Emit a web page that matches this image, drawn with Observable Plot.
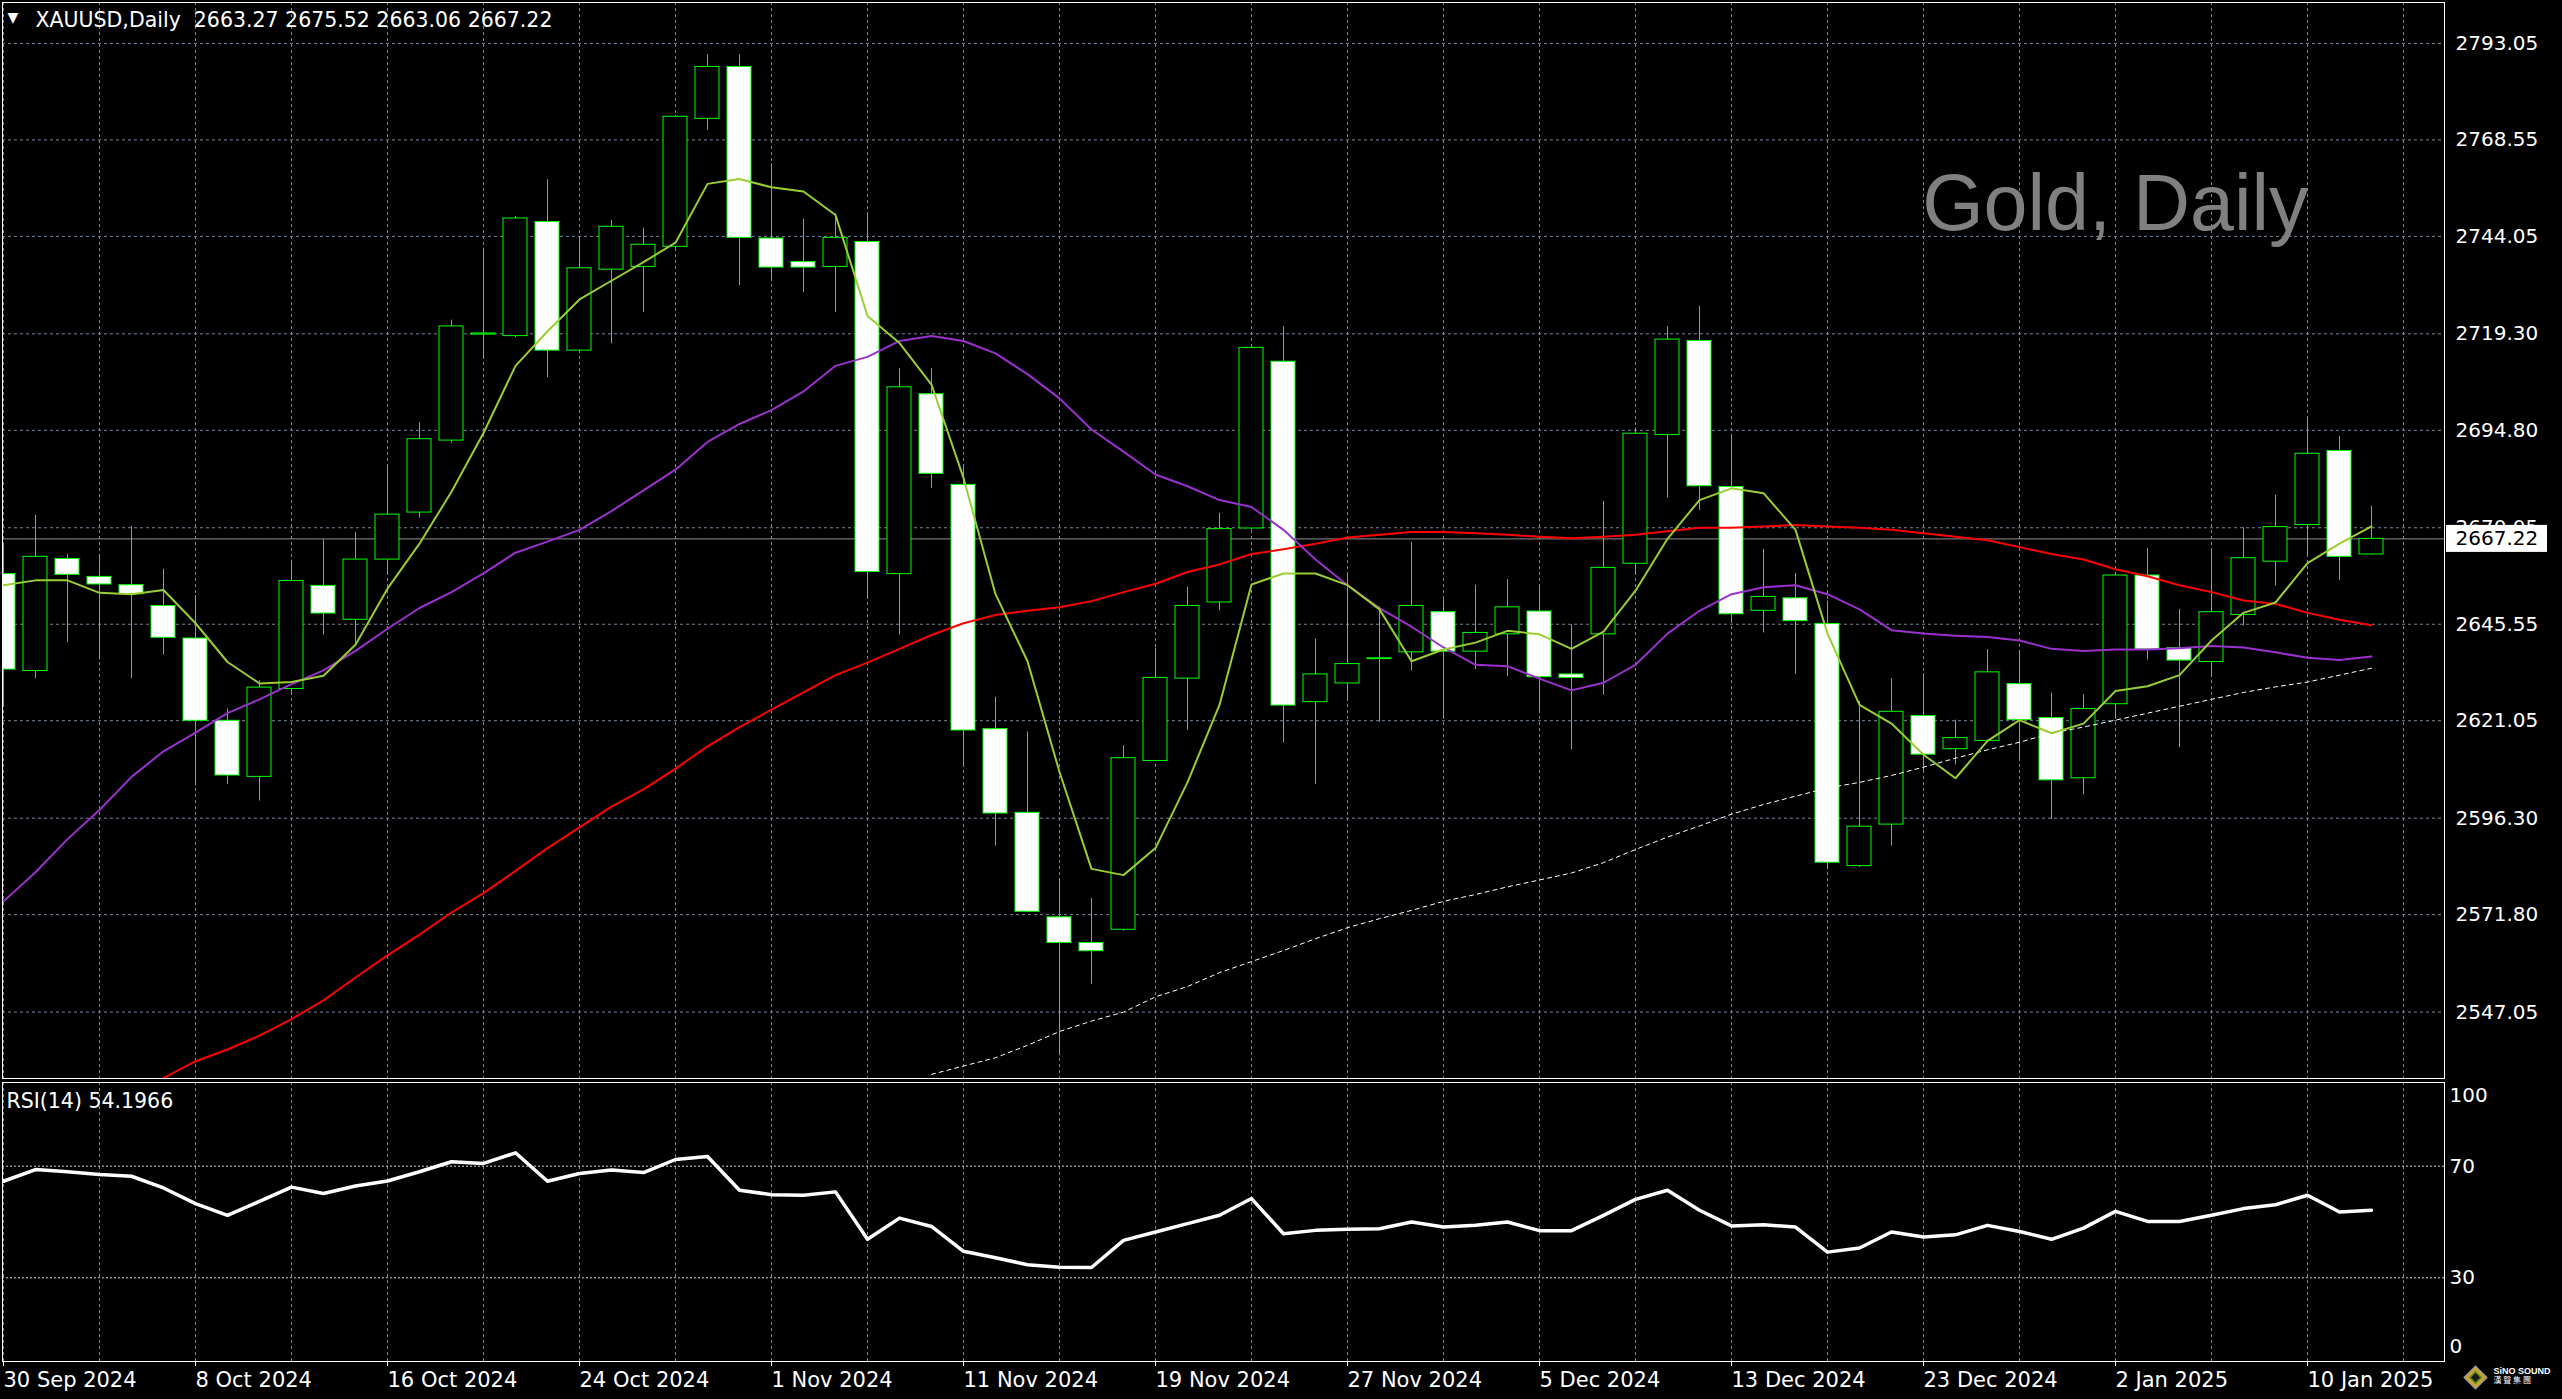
<!DOCTYPE html>
<html>
<head>
<meta charset="utf-8">
<script src="https://cdn.jsdelivr.net/npm/d3@7"></script>
<script src="https://cdn.jsdelivr.net/npm/@observablehq/plot@0.6"></script>
<style>
html, body { margin: 0; padding: 0; background: #000; overflow: hidden; width: 2562px; height: 1399px; }
#chart svg { display: block; }
</style>
</head>
<body>
<div id="chart"></div>
<script>
// ---------------- DATA ----------------
const symbolLabel = "XAUUSD,Daily";
const watermark = "Gold, Daily";
const rsiLabel = "RSI(14) 54.1966";

const opens = [2658.28, 2633.68, 2662.14, 2657.57, 2655.47, 2650.19, 2641.93, 2621.03, 2606.79, 2629.11,
  2655.29, 2646.68, 2661.97, 2673.91, 2692.19, 2719.10, 2718.72, 2747.71, 2715.03, 2735.59,
  2736.29, 2741.39, 2773.89, 2787.07, 2743.50, 2737.52, 2736.29, 2742.62, 2658.28, 2703.96,
  2680.94, 2618.91, 2597.66, 2571.12, 2564.62, 2567.96, 2610.83, 2631.74, 2651.07, 2669.87,
  2712.22, 2625.77, 2630.51, 2636.70, 2638.42, 2648.61, 2638.59, 2642.99, 2648.78, 2632.80,
  2642.99, 2660.91, 2693.59, 2717.49, 2680.42, 2648.96, 2652.13, 2645.63, 2584.13, 2594.67,
  2622.26, 2613.82, 2615.93, 2630.34, 2621.73, 2606.44, 2625.24, 2657.92, 2639.48, 2635.96,
  2647.91, 2661.44, 2670.75, 2689.55, 2663.27];
const highs = [2665.66, 2673.21, 2663.20, 2663.20, 2670.40, 2659.51, 2652.83, 2624.01, 2631.22, 2661.79,
  2667.06, 2668.82, 2685.87, 2696.76, 2722.76, 2741.03, 2749.12, 2758.43, 2743.85, 2748.06,
  2746.13, 2774.80, 2790.23, 2790.23, 2762.47, 2748.41, 2749.82, 2749.99, 2710.46, 2710.46,
  2685.87, 2627.00, 2618.21, 2580.79, 2575.87, 2614.70, 2639.48, 2654.94, 2673.74, 2716.10,
  2721.18, 2641.76, 2658.45, 2650.02, 2666.36, 2651.78, 2655.47, 2656.87, 2655.47, 2645.45,
  2676.73, 2695.35, 2721.18, 2726.28, 2693.59, 2664.60, 2658.45, 2651.42, 2625.95, 2631.74,
  2632.97, 2621.20, 2639.12, 2638.77, 2628.05, 2627.70, 2658.40, 2664.78, 2649.32, 2664.60,
  2670.05, 2678.31, 2697.99, 2693.24, 2675.52];
const lows = [2624.72, 2631.74, 2640.88, 2636.49, 2631.74, 2637.72, 2604.51, 2604.86, 2600.64, 2627.70,
  2642.81, 2640.53, 2658.10, 2672.51, 2691.49, 2712.92, 2718.37, 2708.18, 2714.85, 2716.79,
  2724.70, 2741.00, 2770.91, 2731.55, 2732.78, 2729.79, 2724.70, 2651.95, 2642.81, 2680.06,
  2609.78, 2589.22, 2572.30, 2535.98, 2554.08, 2567.60, 2610.60, 2618.56, 2648.96, 2669.50,
  2615.40, 2604.86, 2626.12, 2620.67, 2633.68, 2621.55, 2634.03, 2632.27, 2623.31, 2613.65,
  2627.53, 2658.10, 2677.60, 2674.44, 2646.15, 2643.34, 2632.80, 2583.42, 2583.80, 2589.22,
  2608.03, 2609.78, 2615.75, 2611.01, 2595.90, 2602.23, 2621.55, 2636.49, 2614.17, 2632.27,
  2645.10, 2655.29, 2663.02, 2656.70, 2663.06];
const closes = [2634.03, 2662.67, 2658.10, 2655.64, 2653.18, 2642.11, 2621.03, 2607.14, 2629.46, 2656.52,
  2648.26, 2661.97, 2673.39, 2692.54, 2721.18, 2719.40, 2748.59, 2715.03, 2735.94, 2746.48,
  2741.92, 2774.42, 2787.07, 2743.67, 2736.12, 2736.12, 2743.67, 2658.80, 2705.72, 2683.75,
  2618.56, 2597.48, 2572.53, 2564.62, 2562.51, 2611.54, 2631.92, 2650.19, 2669.70, 2715.73,
  2624.89, 2632.80, 2635.43, 2636.90, 2650.19, 2638.59, 2643.34, 2649.84, 2632.10, 2631.92,
  2659.86, 2693.94, 2717.84, 2680.59, 2648.08, 2652.48, 2646.33, 2584.99, 2594.14, 2623.31,
  2612.42, 2616.63, 2633.33, 2621.20, 2605.91, 2624.01, 2657.92, 2639.12, 2636.31, 2648.61,
  2662.32, 2670.22, 2688.84, 2662.67, 2667.22];

// moving averages (fast = yellow-green, medium = purple, slow = red, long = white dotted)
const maFast = [2655.47, 2656.69, 2656.69, 2653.53, 2653.18, 2654.24, 2645.80, 2635.96, 2630.51, 2630.87,
  2632.45, 2640.35, 2654.59, 2666.01, 2679.19, 2694.12, 2711.17, 2719.95, 2728.03, 2732.78,
  2737.52, 2742.44, 2757.38, 2758.61, 2756.50, 2755.44, 2749.47, 2723.82, 2716.96, 2706.42,
  2682.70, 2653.18, 2636.14, 2608.02, 2583.42, 2581.84, 2588.70, 2605.39, 2625.07, 2655.64,
  2658.45, 2658.45, 2655.47, 2649.32, 2636.14, 2639.12, 2640.88, 2643.87, 2642.99, 2639.30,
  2643.69, 2654.06, 2667.24, 2677.08, 2680.06, 2678.83, 2669.52, 2643.17, 2625.07, 2620.32,
  2612.42, 2606.44, 2615.93, 2621.20, 2617.86, 2620.32, 2628.58, 2629.81, 2632.62, 2641.41,
  2648.44, 2651.07, 2661.09, 2666.01, 2670.40];
const maMid = [2575.17, 2582.55, 2590.98, 2598.36, 2606.79, 2613.29, 2618.04, 2622.96, 2626.47, 2630.34,
  2633.85, 2638.77, 2644.40, 2649.67, 2653.71, 2658.45, 2663.72, 2666.53, 2669.52, 2674.27,
  2679.54, 2684.81, 2691.84, 2696.41, 2699.92, 2704.66, 2711.17, 2713.45, 2717.49, 2718.72,
  2717.49, 2714.33, 2709.06, 2702.91, 2695.00, 2689.38, 2683.58, 2680.59, 2677.08, 2675.32,
  2669.52, 2661.97, 2655.47, 2649.67, 2644.92, 2639.65, 2635.26, 2634.91, 2631.74, 2628.76,
  2630.69, 2635.26, 2643.17, 2648.96, 2653.18, 2654.94, 2655.47, 2653.18, 2649.32, 2644.04,
  2643.17, 2642.64, 2642.29, 2641.41, 2639.30, 2638.77, 2639.12, 2639.12, 2639.48, 2640.00,
  2639.65, 2638.42, 2637.02, 2636.49, 2637.37];
const maSlow = [null, null, null, null, null, 2530.30, 2534.58, 2537.56, 2541.08, 2545.29,
  2550.04, 2555.84, 2561.46, 2566.73, 2572.35, 2577.27, 2582.90, 2588.70, 2593.97, 2599.24,
  2603.63, 2608.90, 2614.52, 2619.44, 2623.84, 2628.23, 2632.62, 2635.79, 2639.30, 2642.81,
  2645.80, 2647.91, 2648.96, 2649.84, 2651.42, 2653.71, 2655.82, 2658.80, 2660.74, 2663.37,
  2664.60, 2666.01, 2667.59, 2668.29, 2668.99, 2668.99, 2668.64, 2668.29, 2667.76, 2667.41,
  2667.76, 2668.29, 2669.17, 2670.05, 2670.05, 2670.40, 2670.75, 2670.40, 2670.05, 2669.52,
  2668.64, 2667.76, 2666.89, 2665.13, 2663.37, 2661.97, 2659.51, 2657.75, 2655.47, 2653.71,
  2651.60, 2650.72, 2648.44, 2646.68, 2645.27];
const maLong = [null, null, null, null, null, null, null, null, null, null,
  null, null, null, null, null, null, null, null, null, null,
  null, null, null, null, null, null, null, null, null, 2531.24,
  2533.35, 2535.46, 2538.62, 2542.13, 2544.77, 2547.05, 2550.92, 2553.55, 2557.07, 2559.88,
  2562.69, 2565.68, 2568.49, 2570.77, 2572.88, 2575.17, 2576.92, 2578.86, 2580.61, 2582.37,
  2585.01, 2588.34, 2591.51, 2594.32, 2597.31, 2599.77, 2601.87, 2603.98, 2605.39, 2607.14,
  2609.25, 2611.54, 2613.65, 2615.58, 2617.86, 2619.44, 2621.20, 2622.96, 2624.72, 2626.47,
  2628.23, 2629.64, 2630.87, 2632.62, 2634.38];

const rsi = [64.6, 68.8, 68.0, 67.0, 66.4, 62.2, 56.6, 52.4, 57.4, 62.5,
  60.2, 62.9, 64.7, 68.0, 71.6, 71.0, 74.8, 64.6, 67.4, 68.6,
  67.7, 72.4, 73.5, 61.4, 59.8, 59.6, 60.8, 43.8, 51.4, 48.4,
  39.5, 37.2, 34.7, 33.8, 33.7, 43.4, 46.4, 49.4, 52.4, 58.4,
  45.8, 47.0, 47.4, 47.6, 50.0, 48.2, 48.8, 50.0, 46.9, 46.9,
  52.4, 58.1, 61.4, 54.2, 48.6, 49.0, 48.2, 39.2, 40.7, 46.4,
  44.6, 45.4, 48.8, 46.6, 43.8, 47.8, 53.8, 50.2, 50.2, 52.4,
  54.8, 56.2, 59.6, 53.6, 54.2];

const priceTicks = [2793.05, 2768.55, 2744.05, 2719.30, 2694.80, 2670.05, 2645.55, 2621.05, 2596.30, 2571.80, 2547.05];
const rsiTicksMid = [70, 30];
const rsiTop = [100];
const rsiBottom = [0];
const rsiLevels = [70, 30];
const gridBars = [0, 3, 6, 9, 12, 15, 18, 21, 24, 27, 30, 33, 36, 39, 42, 45, 48, 51, 54, 57, 60, 63, 66, 69, 72, 75];
const labelBars = [0, 6, 12, 18, 24, 30, 36, 42, 48, 54, 60, 66, 72];
const dateLabels = ["30 Sep 2024", "8 Oct 2024", "16 Oct 2024", "24 Oct 2024", "1 Nov 2024", "11 Nov 2024",
  "19 Nov 2024", "27 Nov 2024", "5 Dec 2024", "13 Dec 2024", "23 Dec 2024", "2 Jan 2025", "10 Jan 2025"];

// ---------------- LAYOUT ----------------
const W = 2562;
const PLOT_LEFT = 2, PLOT_RIGHT = 2444, BAR_PX = 32, FIRST_BAR_PX = 3;
const xDomain = [(PLOT_LEFT - FIRST_BAR_PX) / BAR_PX, (PLOT_RIGHT - FIRST_BAR_PX) / BAR_PX];
const BODY_HALF = 0.375;
const GRID = "#778899";
const FONT = "DejaVu Sans";

const bars = opens.map((o, i) => ({i, open: o, high: highs[i], low: lows[i], close: closes[i]}));
const last = bars[bars.length - 1];
const header = `${symbolLabel}  ${[last.open, last.high, last.low, last.close].map(d => d.toFixed(2)).join(" ")}`;

const pricePlot = Plot.plot({
  width: W, height: 1080,
  marginLeft: PLOT_LEFT, marginRight: W - PLOT_RIGHT, marginTop: 2, marginBottom: 2,
  style: {background: "#000", color: "#fff", fontFamily: FONT, fontSize: "20px"},
  x: {domain: xDomain, axis: null},
  y: {domain: [2530.19, 2803.44]},
  marks: [
    Plot.gridX(gridBars, {stroke: GRID, strokeOpacity: 1, strokeDasharray: "3,3"}),
    Plot.gridY(priceTicks, {stroke: GRID, strokeOpacity: 1, strokeDasharray: "3,3"}),
    Plot.text([watermark], {frameAnchor: "top-right", dx: -136, dy: 171, textAnchor: "end", lineAnchor: "top",
      fontSize: 79, fontFamily: "Liberation Sans", fill: "#808080"}),
    Plot.ruleY([last.close], {stroke: "#8f8f8f", strokeWidth: 1}),
    Plot.ruleX(bars, {x: "i", y1: "low", y2: "high", stroke: "#00ff00", strokeWidth: 1, clip: true}),
    Plot.rect(bars, {x1: d => d.i - BODY_HALF, x2: d => d.i + BODY_HALF, y1: "open", y2: "close",
      fill: d => d.close >= d.open ? "black" : "white", stroke: "#00ff00", strokeWidth: 1, clip: true}),
    Plot.lineY(maLong, {stroke: "#ffffff", strokeWidth: 1, strokeDasharray: "4,4", clip: true}),
    Plot.lineY(maSlow, {stroke: "#ff0000", strokeWidth: 2, clip: true}),
    Plot.lineY(maMid, {stroke: "#9932cc", strokeWidth: 2, clip: true}),
    Plot.lineY(maFast, {stroke: "#9acd32", strokeWidth: 2, clip: true}),
    Plot.axisY(priceTicks, {anchor: "right", tickSize: 0, tickPadding: 11, tickFormat: d => d.toFixed(2), label: null, fontSize: 20}),
    Plot.text([last.close], {y: d => d, text: d => d.toFixed(2), frameAnchor: "right", dx: 11, textAnchor: "start",
      fill: "#000", fontSize: 20}),
    Plot.text(["▼"], {frameAnchor: "top-left", dx: 5, dy: 10, textAnchor: "start", lineAnchor: "top", fontSize: 14, fill: "#fff"}),
    Plot.text([header], {frameAnchor: "top-left", dx: 33, dy: 10, textAnchor: "start", lineAnchor: "top", fontSize: 20.5, fill: "#fff"}),
    Plot.frame({stroke: "#fff"})
  ]
});

// white box behind the last-price label on the right axis
{
  const svg = d3.select(pricePlot);
  const yv = pricePlot.scale("y").apply(last.close);
  const lbl = svg.selectAll("text").filter(function () { return this.textContent === last.close.toFixed(2); });
  const g = lbl.node().parentNode;
  g.parentNode.insertBefore(
    Object.assign(document.createElementNS("http://www.w3.org/2000/svg", "rect"), {}), g);
  d3.select(g.previousSibling)
    .attr("x", PLOT_RIGHT + 2).attr("y", yv - 13.5).attr("width", 101).attr("height", 27).attr("fill", "#fff");
}

const rsiPlot = Plot.plot({
  width: W, height: 319,
  marginLeft: PLOT_LEFT, marginRight: W - PLOT_RIGHT, marginTop: 2, marginBottom: 38,
  style: {background: "#000", color: "#fff", fontFamily: FONT, fontSize: "20px"},
  x: {domain: xDomain},
  y: {domain: [0, 100]},
  marks: [
    Plot.gridX(gridBars, {stroke: GRID, strokeOpacity: 1, strokeDasharray: "3,3"}),
    Plot.ruleY(rsiLevels, {stroke: "#d0d0d0", strokeDasharray: "2,2", strokeWidth: 1}),
    Plot.lineY(rsi, {stroke: "#fff", strokeWidth: 3.5, clip: true}),
    Plot.axisX(labelBars, {anchor: "bottom", tickSize: 5, tickPadding: 6, textAnchor: "start", label: null,
      tickFormat: d => dateLabels[labelBars.indexOf(d)], fontSize: 21}),
    Plot.axisY(rsiTicksMid, {anchor: "right", tickSize: 0, tickPadding: 5, label: null, fontSize: 20}),
    Plot.axisY(rsiTop, {anchor: "right", tickSize: 0, tickPadding: 5, label: null, fontSize: 20, dy: 13}),
    Plot.axisY(rsiBottom, {anchor: "right", tickSize: 0, tickPadding: 5, label: null, fontSize: 20, dy: -15}),
    Plot.text([rsiLabel], {frameAnchor: "top-left", dx: 4, dy: 11, textAnchor: "start", lineAnchor: "top", fontSize: 20.5, fill: "#fff"}),
    Plot.dot(["logo"], {frameAnchor: "bottom-right", dx: 31, dy: 16, symbol: "square", r: 9, rotate: 45, fill: "#c9a52b", stroke: "#9a9a9a"}),
    Plot.dot(["logo"], {frameAnchor: "bottom-right", dx: 31, dy: 16, symbol: "square", r: 4.5, rotate: 45, fill: "#1a1a1a", stroke: "#5a8a20"}),
    Plot.text(["SiNO SOUND"], {frameAnchor: "bottom-right", dx: 49, dy: 6, textAnchor: "start", lineAnchor: "top",
      fontSize: 9, fontWeight: "bold", fontFamily: "Liberation Sans", fill: "#fff"}),
    Plot.text(["漢 聲 集 團"], {frameAnchor: "bottom-right", dx: 49, dy: 16, textAnchor: "start", lineAnchor: "top",
      fontSize: 8, fontFamily: "Noto Sans CJK TC", fill: "#fff"}),
    Plot.frame({stroke: "#fff"})
  ]
});

const host = document.getElementById("chart");
host.appendChild(pricePlot);
host.appendChild(rsiPlot);
</script>
</body>
</html>
